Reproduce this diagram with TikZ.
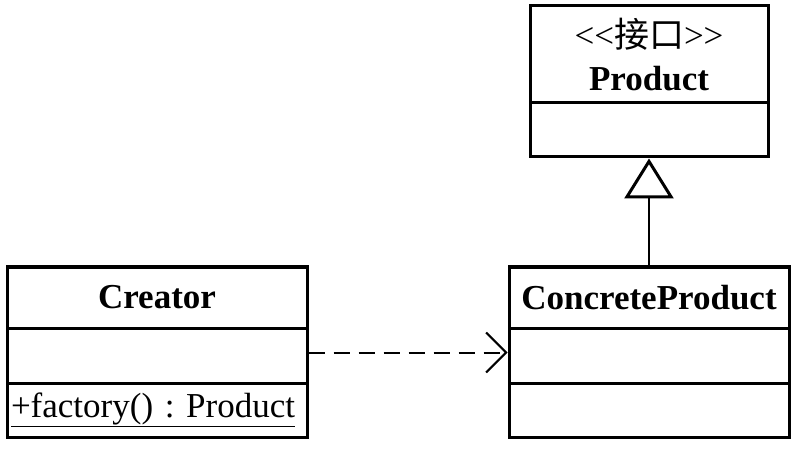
\documentclass[tikz,border=0pt]{standalone}
\usepackage{fontspec}
\setmainfont{Liberation Serif}
\newfontfamily\cjk{Noto Sans CJK SC}
\usetikzlibrary{arrows.meta}

\begin{document}
\frenchspacing
\begin{tikzpicture}[x=1pt, y=-1pt,
  every node/.style={rectangle, draw, line width=3pt, inner sep=0pt, font=\fontsize{35}{43}\selectfont},
  cls/.style={minimum width=#1},
  link/.style={line width=2pt}]
\useasboundingbox (0,0) rectangle (798,449);
\node[cls=238, minimum height=97, align=center] (P0) at (649,54.5) {<{}<{\cjk 接口}>{}>\\\textbf{Product}};
\node[cls=238, minimum height=54] (P1) at (649,130) {};
\node[cls=300, minimum height=61] (C0) at (157,297.5) {\textbf{Creator}};
\node[cls=300, minimum height=55] (C1) at (157,355.5) {};
\node[cls=300, minimum height=54, text width=292, inner xsep=4pt, align=left] (C2) at (157,410) {\underline{+factory() : Product}};
\node[cls=280, minimum height=61] (CP0) at (649,297.5) {\textbf{ConcreteProduct}};
\node[cls=280, minimum height=55] (CP1) at (649,355.5) {};
\node[cls=280, minimum height=54] (CP2) at (649,410) {};
\draw[link, -{Triangle[open, length=40pt, width=49pt, line width=3pt]}] (CP0.north) -- (P1.south);
\draw[link, dash pattern=on 16pt off 9pt, -{Straight Barb[length=20pt, width=40pt, line width=2pt]}] ([yshift=3pt]C1.east) -- ([yshift=3pt]CP1.west);
\end{tikzpicture}
\end{document}
